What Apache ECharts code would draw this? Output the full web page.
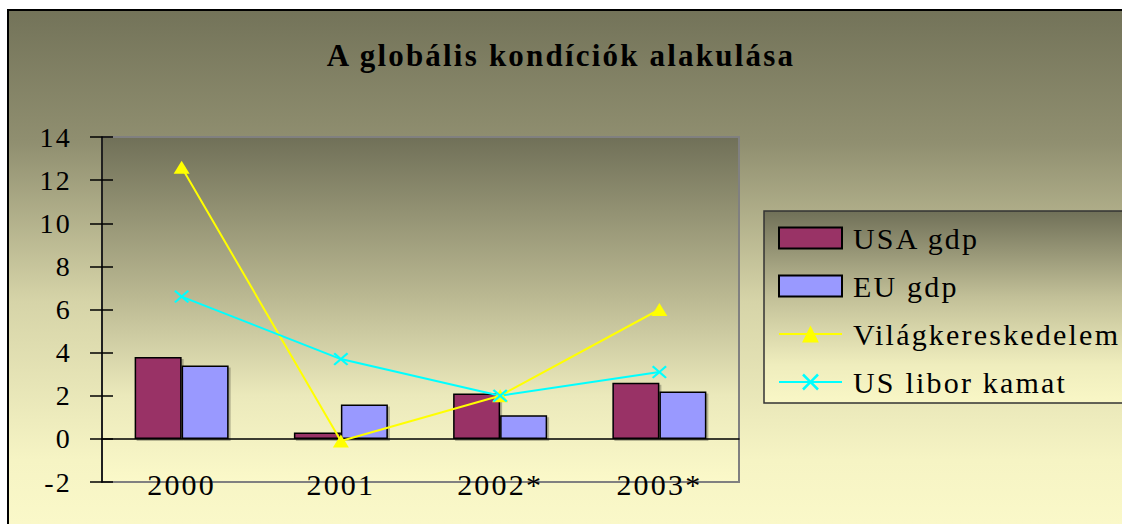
<!DOCTYPE html>
<html>
<head>
<meta charset="utf-8">
<script src="https://cdn.jsdelivr.net/npm/echarts@6/dist/echarts.min.js"></script>
<style>
  html, body { margin: 0; padding: 0; background: #fff; }
  #chart { width: 1122px; height: 524px; }
  /* régi Excel-stílusú ritkított betűk */
  #chart text { letter-spacing: 2.2px; }
</style>
</head>
<body>
<div id="chart"></div>
<script>
// adatok
const years = ['2000', '2001', '2002*', '2003*'];
const usaGdp = [3.8, 0.3, 2.1, 2.6];
const euGdp = [3.4, 1.6, 1.1, 2.2];
const vilagker = [12.6, -0.1, 2.0, 6.0];
const usLibor = [6.6, 3.7, 2.0, 3.1];
const yMin = -2, yMax = 14, yStep = 2;

const SERIF = '"Liberation Serif", "Times New Roman", serif';
const LG = echarts.graphic.LinearGradient;

// sötét olíva -> világos sárga, függőleges
function olive(stops) {
  return new LG(0, 0, 0, 1, stops.map(([o, c]) => ({ offset: o, color: c })));
}

const CROSS = 'path://M0,1.5L1.5,0L7,5.5L12.5,0L14,1.5L8.5,7L14,12.5L12.5,14L7,8.5L1.5,14L0,12.5L5.5,7Z';

const chart = echarts.init(document.getElementById('chart'), null, { renderer: 'svg' });

const hiddenCat = {
  type: 'category', data: years,
  axisLabel: { show: false }, splitLine: { show: false },
};

chart.setOption({
  animation: false,
  textStyle: { fontFamily: SERIF, color: '#000' },
  graphic: [
    { type: 'rect', z: -10, silent: true,
      shape: { x: 8, y: 10, width: 1130, height: 530 },
      style: { stroke: '#000', lineWidth: 2,
        fill: olive([[0, '#737359'], [0.25, '#908f70'], [0.55, '#d6d4a8'], [0.85, '#f6f4c4'], [1, '#fbf9ca']]) } },
    { type: 'rect', z: 1, silent: true,
      shape: { x: 764, y: 211, width: 400, height: 192 },
      style: { stroke: '#333', lineWidth: 1.5,
        fill: olive([[0, '#707058'], [0.45, '#c2c098'], [0.8, '#efedbd'], [1, '#f9f7c6']]) } },
  ],
  title: {
    text: 'A globális kondíciók alakulása',
    left: 'center', top: 40, padding: 0,
    textStyle: { fontFamily: SERIF, fontWeight: 'bold', fontSize: 31, color: '#000' },
  },
  legend: {
    orient: 'vertical', left: 778, top: 223, padding: 0,
    itemWidth: 63, itemHeight: 21, itemGap: 18,
    textStyle: { fontFamily: SERIF, fontSize: 30, color: '#000', lineHeight: 30, padding: [0, 0, 0, 6] },
    data: [
      { name: 'USA gdp', icon: 'rect' },
      { name: 'EU gdp', icon: 'rect' },
      'Világkereskedelem',
      'US libor kamat',
    ],
  },
  grid: {
    left: 102, right: 383, top: 137, bottom: 42,
    show: true, borderColor: '#808080', borderWidth: 2,
    backgroundColor: olive([[0, '#707058'], [0.45, '#b8b690'], [0.75, '#ebe9bb'], [1, '#fbf9c9']]),
  },
  xAxis: [
    // feliratok alul, a -2 vonalnál
    { type: 'category', data: years, position: 'bottom',
      axisLine: { show: false, onZero: false }, axisTick: { show: false },
      axisLabel: { fontFamily: SERIF, fontSize: 30, color: '#000', margin: -13 } },
    // nulla vonal, lefelé álló osztások
    Object.assign({}, hiddenCat, { position: 'bottom',
      axisLine: { onZero: true, lineStyle: { color: '#000', width: 1.5 } },
      axisTick: { length: 10, lineStyle: { color: '#000', width: 1.5 } } }),
    // felfelé álló osztások
    Object.assign({}, hiddenCat, { position: 'top',
      axisLine: { show: false, onZero: true },
      axisTick: { length: 10, lineStyle: { color: '#000', width: 1.5 } } }),
  ],
  yAxis: [
    { type: 'value', position: 'left', min: yMin, max: yMax, interval: yStep,
      splitLine: { show: false },
      axisLine: { show: true, lineStyle: { color: '#000', width: 1.5 } },
      axisTick: { show: true, length: 12, lineStyle: { color: '#000', width: 1.5 } },
      axisLabel: { fontFamily: SERIF, fontSize: 28, color: '#000', margin: 30 } },
    { type: 'value', position: 'left', min: yMin, max: yMax, interval: yStep,
      splitLine: { show: false }, axisLine: { show: false }, axisLabel: { show: false },
      axisTick: { show: true, inside: true, length: 11, lineStyle: { color: '#000', width: 1.5 } } },
  ],
  series: [
    { name: 'USA gdp', type: 'bar', data: usaGdp, barWidth: 47, barGap: '0%',
      itemStyle: { color: '#993366', borderColor: '#000', borderWidth: 1.5,
        shadowColor: 'rgba(0,0,0,0.25)', shadowOffsetX: 2, shadowOffsetY: 2 } },
    { name: 'EU gdp', type: 'bar', data: euGdp, barWidth: 47, barGap: '0%',
      itemStyle: { color: '#9999ff', borderColor: '#000', borderWidth: 1.5,
        shadowColor: 'rgba(0,0,0,0.25)', shadowOffsetX: 2, shadowOffsetY: 2 } },
    { name: 'Világkereskedelem', type: 'line', data: vilagker,
      symbol: 'triangle', symbolSize: [16, 13], z: 5,
      lineStyle: { color: '#ffff00', width: 2 }, itemStyle: { color: '#ffff00' } },
    { name: 'US libor kamat', type: 'line', data: usLibor,
      symbol: CROSS, symbolSize: [15, 13], z: 5,
      lineStyle: { color: '#00ffff', width: 2 }, itemStyle: { color: '#00ffff' } },
  ],
});
</script>
</body>
</html>
